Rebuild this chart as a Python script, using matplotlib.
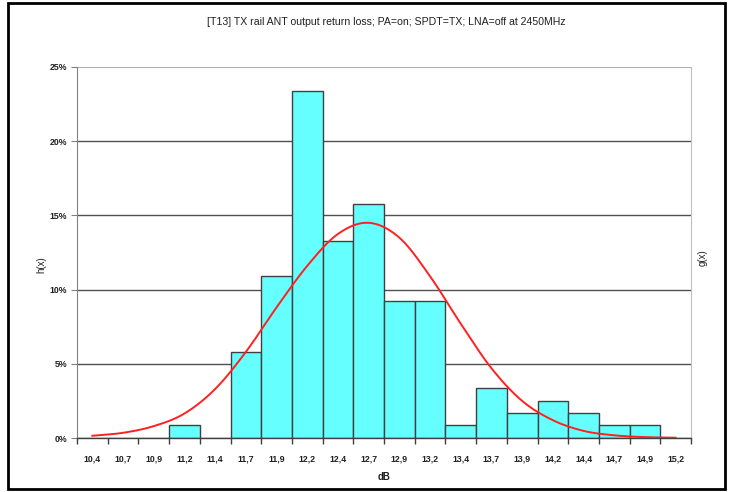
import numpy as np
import matplotlib
matplotlib.use('Agg')
import matplotlib.pyplot as plt
from matplotlib.patches import Rectangle
from matplotlib.ticker import FixedLocator, PercentFormatter

plt.rcParams['font.family'] = ['Liberation Sans', 'DejaVu Sans']

title = '[T13] TX rail ANT output return loss; PA=on; SPDT=TX; LNA=off at 2450MHz'
bins = ['10,4', '10,7', '10,9', '11,2', '11,4', '11,7', '11,9', '12,2', '12,4', '12,7',
        '12,9', '13,2', '13,4', '13,7', '13,9', '14,2', '14,4', '14,7', '14,9', '15,2']
# histogram h(x), percent of samples per bin
h_x = [0, 0, 0, 0.9, 0, 5.8, 10.9, 23.4, 13.3, 15.8,
       9.2, 9.2, 0.9, 3.4, 1.7, 2.5, 1.7, 0.9, 0.9, 0]
# fitted distribution g(x), percent
g_x = [0.15, 0.35, 0.8, 1.65, 3.3, 5.8, 8.8, 11.6, 13.75, 14.5,
       13.5, 10.9, 7.7, 4.7, 2.5, 1.2, 0.48, 0.18, 0.06, 0.02]


def smooth(x, y, n=20):
    # Catmull-Rom spline through the points, like a spreadsheet "smoothed line"
    x = np.asarray(x, float)
    y = np.asarray(y, float)
    px = np.concatenate([[2 * x[0] - x[1]], x, [2 * x[-1] - x[-2]]])
    py = np.concatenate([[2 * y[0] - y[1]], y, [2 * y[-1] - y[-2]]])
    t = np.linspace(0, 1, n, endpoint=False)
    xs, ys = [], []
    for i in range(1, len(px) - 2):
        for p, out in ((px, xs), (py, ys)):
            p0, p1, p2, p3 = p[i - 1], p[i], p[i + 1], p[i + 2]
            out.extend(0.5 * (2 * p1 + (-p0 + p2) * t
                              + (2 * p0 - 5 * p1 + 4 * p2 - p3) * t ** 2
                              + (-p0 + 3 * p1 - 3 * p2 + p3) * t ** 3))
    xs.append(x[-1])
    ys.append(y[-1])
    return np.array(xs), np.array(ys)


fig = plt.figure(figsize=(7.34, 4.92), dpi=100)
ax = fig.add_axes([77 / 734, 1 - 438 / 492, 614 / 734, 371 / 492])

pos = np.arange(len(bins))
ax.bar(pos, h_x, width=1.0, color='#66ffff', edgecolor='#404040', linewidth=1.0, zorder=2)

sx, sy = smooth(pos, g_x)
ax.plot(sx, sy, color='#ff2020', linewidth=1.4, zorder=3)

ax.set_xlim(-0.5, len(bins) - 0.5)
ax.set_ylim(0, 25)
ax.set_yticks(np.arange(0, 26, 5))
ax.yaxis.set_major_formatter(PercentFormatter(decimals=0))
ax.set_xticks(pos)
ax.set_xticklabels(bins)
ax.xaxis.set_minor_locator(FixedLocator(np.arange(-0.5, len(bins), 1.0)))
ax.tick_params(axis='x', which='major', length=0, pad=12, labelsize=6.3)
ax.tick_params(axis='x', which='minor', length=4, color='#404040', width=1)
ax.tick_params(axis='y', length=4, color='#808080', labelsize=6.3, pad=3)
for lab in ax.get_xticklabels() + ax.get_yticklabels():
    lab.set_fontweight('bold')
    lab.set_color('#202020')

for y in [5, 10, 15, 20]:
    ax.axhline(y, color='#505050', linewidth=1.0, zorder=1)
ax.axhline(25, color='#b0b0b0', linewidth=0.8, zorder=1)

ax.spines['top'].set_visible(False)
ax.spines['left'].set_color('#808080')
ax.spines['right'].set_color('#c0c0c0')
ax.spines['bottom'].set_color('#404040')
ax.spines['bottom'].set_linewidth(1.0)

ax.set_xlabel('dB', fontsize=7, fontweight='bold', labelpad=6, color='#202020')
fig.text(41 / 734, 1 - 265 / 492, 'h(x)', rotation=90, fontsize=7,
         ha='center', va='center', color='#202020')
fig.text(703 / 734, 1 - 258 / 492, 'g(x)', rotation=90, fontsize=7,
         ha='center', va='center', color='#202020')
fig.text(386 / 734, 1 - 22 / 492, title, fontsize=7.6, ha='center', va='center', color='#202020')

fig.patches.append(Rectangle((8 / 734, 1 - 489 / 492), 717 / 734, 486 / 492,
                             transform=fig.transFigure, fill=False,
                             edgecolor='black', linewidth=2))

fig.savefig('out.png', dpi=100)
